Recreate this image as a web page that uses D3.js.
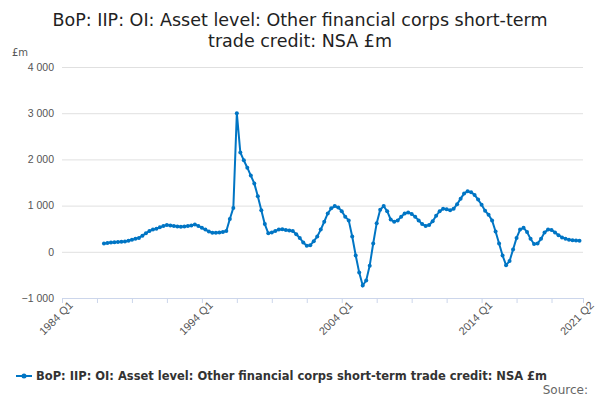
<!DOCTYPE html>
<html><head><meta charset="utf-8">
<script src="https://cdn.jsdelivr.net/npm/d3@7"></script>
<style>body{margin:0;background:#fff;font-family:"DejaVu Sans",sans-serif}</style>
</head><body><div id="chart"></div>
<script>
// quarters since 1984 Q1, data starts 1987 Q1 (index 12)
var startIndex = 12;
var values = [
  180,190,200,205,210,215,225,240,260,280,300,350,400,450,480,500,
  530,560,580,570,560,550,540,550,560,570,590,560,520,480,440,410,
  410,420,430,450,710,950,3000,2150,1980,1820,1650,1480,1200,900,
  600,400,420,450,480,490,470,460,450,380,300,200,130,140,230,330,
  480,650,830,940,990,960,880,760,680,330,-80,-450,-730,-620,-300,180,
  620,910,990,880,700,650,680,760,830,850,820,760,680,600,560,580,
  660,780,880,930,920,900,930,1030,1150,1260,1310,1290,1230,1130,1020,890,
  800,680,440,180,-80,-290,-200,50,300,480,520,430,280,170,180,280,
  420,480,470,420,360,310,280,260,250,245,240
];
var yTicks = [-1000, 0, 1000, 2000, 3000, 4000];
var xLabelIdx = [0, 40, 80, 120, 149];
var seriesName = "BoP: IIP: OI: Asset level: Other financial corps short-term trade credit: NSA £m";

function qLabel(i){ return (1984 + Math.floor(i/4)) + " Q" + (i%4 + 1); }
var data = values.map(function(v, k){ return {i: startIndex + k, v: v}; });

var W = 600, H = 400, color = "#0075c4";
var svg = d3.select("#chart").append("svg").attr("width", W).attr("height", H);
var x = d3.scaleLinear().domain([0, 149]).range([62, 583]);
var y = d3.scaleLinear().domain([-1000, 4000]).range([298, 67]);

svg.append("text").attr("x", 300).attr("y", 26).attr("text-anchor", "middle")
  .style("font-size", "17.5px").attr("fill", "#222")
  .text("BoP: IIP: OI: Asset level: Other financial corps short-term");
svg.append("text").attr("x", 300).attr("y", 47).attr("text-anchor", "middle")
  .style("font-size", "17.5px").attr("fill", "#222")
  .text("trade credit: NSA £m");
svg.append("text").attr("x", 12).attr("y", 56).style("font-size", "10px").attr("fill", "#555").text("£m");

var yAxis = svg.append("g").attr("transform", "translate(62,0)")
  .call(d3.axisLeft(y).tickValues(yTicks).tickSize(-521)
    .tickFormat(function(d){ return d3.format(",")(d).replace(/,/g, " "); }));
yAxis.select(".domain").remove();
yAxis.selectAll("line").attr("stroke", "#e0e0e0");
yAxis.selectAll("text").attr("fill", "#555").style("font-size", "10.5px").attr("x", -8);

var xt = d3.range(0, 149, 10).concat([149]);
var xAxis = svg.append("g").attr("transform", "translate(0,298)")
  .call(d3.axisBottom(x).tickValues(xt).tickSize(5)
    .tickFormat(function(d){ return xLabelIdx.indexOf(d) >= 0 ? qLabel(d) : ""; }));
xAxis.select(".domain").attr("stroke", "#ccd6eb");
xAxis.selectAll("line").attr("stroke", "#ccd6eb");
xAxis.selectAll("text").attr("fill", "#555").style("font-size", "11px")
  .attr("text-anchor", "end").attr("dx", "0.2em").attr("dy", "0.5em")
  .attr("transform", "rotate(-45)");

var line = d3.line().x(function(d){ return x(d.i); }).y(function(d){ return y(d.v); });
svg.append("path").datum(data).attr("d", line).attr("fill", "none")
  .attr("stroke", color).attr("stroke-width", 2);
svg.selectAll("circle.pt").data(data).enter().append("circle").attr("class", "pt")
  .attr("cx", function(d){ return x(d.i); }).attr("cy", function(d){ return y(d.v); })
  .attr("r", 2).attr("fill", color);

var lg = svg.append("g").attr("transform", "translate(16,376)");
lg.append("line").attr("x1", 0).attr("x2", 16).attr("y1", 0).attr("y2", 0).attr("stroke", color).attr("stroke-width", 2);
lg.append("circle").attr("cx", 8).attr("cy", 0).attr("r", 2.5).attr("fill", color);
lg.append("text").attr("x", 20).attr("y", 4).style("font-size", "11.5px").style("font-weight", "bold")
  .attr("fill", "#333").text(seriesName);
svg.append("text").attr("x", 588).attr("y", 394).attr("text-anchor", "end")
  .style("font-size", "12px").attr("fill", "#666").text("Source:");
</script></body></html>
